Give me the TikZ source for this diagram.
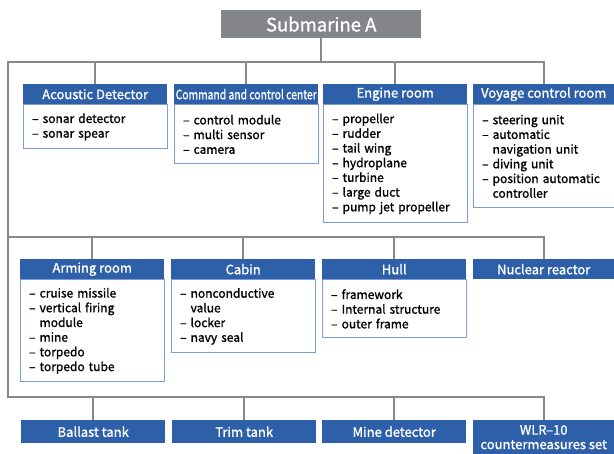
\documentclass[tikz,border=0pt]{standalone}
\usepackage{fontspec}
\setmainfont{Noto Sans CJK KR}[FakeBold=1.2]
\usepackage{tikz}
\usetikzlibrary{positioning}

\definecolor{headblue}{RGB}{46,96,170}
\definecolor{boxblue}{RGB}{122,158,212}
\definecolor{linegray}{RGB}{136,136,138}
\definecolor{titlegray}{RGB}{132,133,137}

\begin{document}
\begin{tikzpicture}[x=1pt, y=-1pt, inner sep=0pt, node distance=0pt,
  title/.style={rectangle, fill=titlegray, text=white, anchor=north west, minimum width=200pt, minimum height=28pt, font=\fontsize{18.5}{20}\selectfont},
  head/.style={rectangle, fill=headblue, text=white, anchor=north west, minimum width=144pt, minimum height=20pt, font=\fontsize{13}{14.5}\selectfont},
  body/.style={rectangle, draw=boxblue, line width=1pt, fill=white, text width=126pt, inner xsep=9pt, align=left, font=\fontsize{12}{14.7}\selectfont},
  link/.style={draw=linegray, line width=2pt}]
\fill[white] (0,0) rectangle (614,454);
\useasboundingbox (0,0) rectangle (614,454);

\node [title] (sub) at (221,10) {Submarine A};

% first row
\node [head] (h1) at (23,84) {Acoustic Detector};
\node [head] (h2) at (174,84) {\resizebox{141pt}{\height}{Command and control center}};
\node [head] (h3) at (323,84) {Engine room};
\node [head, minimum width=141pt] (h4) at (473,84) {Voyage control room};

\node [body, minimum height=44pt] (b1) [below=of h1] {– sonar detector\\– sonar spear};
\node [body, minimum height=59pt] (b2) [below=of h2] {– control module\\– multi sensor\\– camera};
\node [body, minimum height=118pt] (b3) [below=of h3] {– propeller\\– rudder\\– tail wing\\– hydroplane\\– turbine\\– large duct\\– pump jet propeller};
\node [body, minimum height=103pt, text width=123pt] (b4) [below=of h4] {– steering unit\\– automatic\\\phantom{– }navigation unit\\– diving unit\\– position automatic\\\phantom{– }controller};

% second row
\node [head] (m1) at (20,259) {Arming room};
\node [head] (m2) at (171,259) {Cabin};
\node [head] (m3) at (322,259) {Hull};
\node [head, minimum width=141pt] (m4) at (473,259) {Nuclear reactor};

\node [body, minimum height=102pt] (c1) [below=of m1] {– cruise missile\\– vertical firing\\\phantom{– }module\\– mine\\– torpedo\\– torpedo tube};
\node [body, minimum height=73pt] (c2) [below=of m2] {– nonconductive\\\phantom{– }value\\– locker\\– navy seal};
\node [body, minimum height=58pt] (c3) [below=of m3] {– framework\\– Internal structure\\– outer frame};

% third row
\node [head, minimum height=23pt] (r1) at (21,420) {Ballast tank};
\node [head, minimum height=23pt] (r2) at (172,420) {Trim tank};
\node [head, minimum height=23pt] (r3) at (322,420) {Mine detector};
\node [head, minimum width=141pt, minimum height=34pt, align=center] (r4) at (473,420) {WLR–10\\countermeasures set};

\coordinate (bus1) at (8,62);
\coordinate (bus2) at (8,237);
\coordinate (bus3) at (8,397);

\draw [link] (sub.south) -- (sub.south |- bus1);
\draw [link] (h4.north) -- (h4.north |- bus1) -- (bus1) -- (bus3) -- (r4.north |- bus3) -- (r4.north);
\draw [link] (bus2) -- (m4.north |- bus2) -- (m4.north);
\foreach \n in {h1,h2,h3}
  \draw [link] (\n.north) -- (\n.north |- bus1);
\foreach \n in {m1,m2,m3}
  \draw [link] (\n.north) -- (\n.north |- bus2);
\foreach \n in {r1,r2,r3}
  \draw [link] (\n.north) -- (\n.north |- bus3);
\end{tikzpicture}
\end{document}
